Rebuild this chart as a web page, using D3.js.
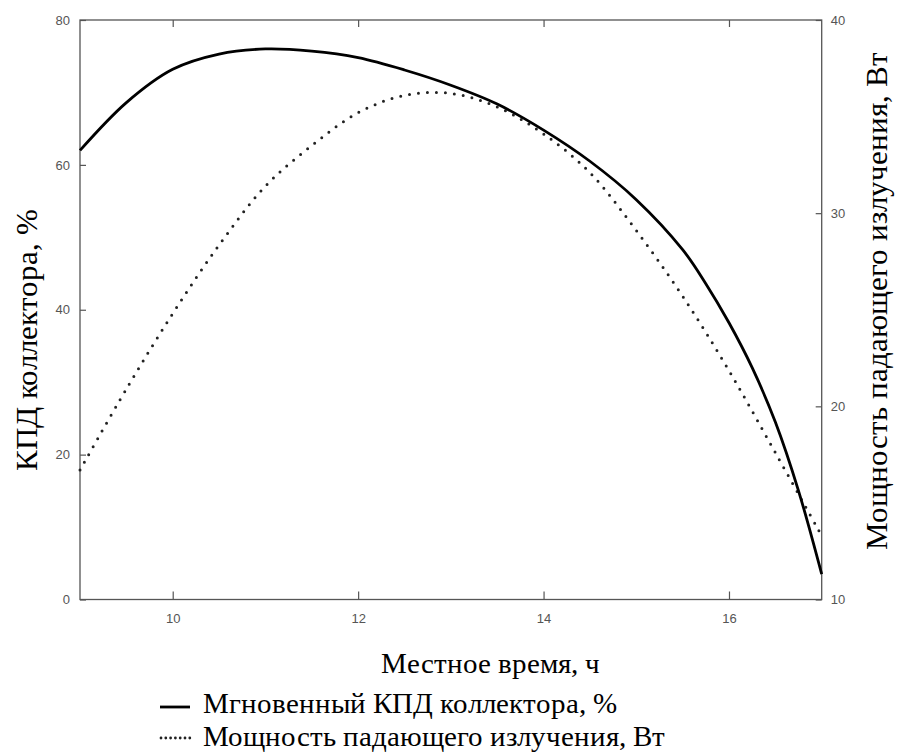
<!DOCTYPE html>
<html><head><meta charset="utf-8">
<script src="https://cdn.jsdelivr.net/npm/d3@7"></script>
<style>
@font-face { font-family: "ChartSerif"; src: local("Liberation Serif"), local("LiberationSerif"), local("LiberationSerif-Regular"), local("Times New Roman"), local("Tinos"); }
body { margin: 0; }
text.serif { font-family: "ChartSerif", "Liberation Serif", "Tinos", "Times New Roman", serif; }
</style>
</head><body>
<script>
const effHours = [9, 9.5, 10, 10.5, 11, 11.5, 12, 12.5, 13, 13.5, 14, 14.5, 15, 15.5, 15.75, 16, 16.25, 16.5, 16.75, 17];
const efficiency = [62.0, 68.6, 73.2, 75.3, 76.0, 75.7, 74.8, 73.1, 71.0, 68.4, 64.8, 60.5, 55.2, 48.3, 43.6, 38.2, 32.0, 24.5, 15.0, 3.5];
const powHours = [9, 9.5, 10, 10.5, 11, 11.5, 12, 12.5, 13, 13.5, 14, 14.5, 15, 15.5, 16, 16.5, 17];
const power = [16.7, 20.9, 24.8, 28.35, 31.4, 33.5, 35.2, 36.1, 36.2, 35.5, 34.1, 32.1, 29.1, 25.7, 21.85, 17.6, 13.3];
const xTicks = [10, 12, 14, 16];
const leftTicks = [0, 20, 40, 60, 80];
const rightTicks = [10, 20, 30, 40];
const xTitle = "Местное время, ч";
const leftTitle = "КПД коллектора, %";
const rightTitle = "Мощность падающего излучения, Вт";
const legendLabels = ["Мгновенный КПД коллектора, %", "Мощность падающего излучения, Вт"];

const W = 898, H = 752;
const L = 80, R = 821.7, T = 20, B = 599.5;
const svg = d3.select("body").append("svg").attr("width", W).attr("height", H);
const x = d3.scaleLinear().domain([9, 17]).range([L, R]);
const yL = d3.scaleLinear().domain([0, 80]).range([B, T]);
const yR = d3.scaleLinear().domain([10, 40]).range([B, T]);

// size a serif text so that its length approaches the reference, within limits
function serifText(str, target, maxSize) {
  const t = svg.append("text").attr("class", "serif").style("font-size", "26px").attr("fill", "#000").text(str);
  const w = t.node().getComputedTextLength();
  const fs = Math.max(22, Math.min(maxSize, 26 * target / w));
  t.style("font-size", fs.toFixed(2) + "px");
  return t;
}
const legY = [707, 738];
const leg2 = serifText(legendLabels[1], 532, 29).attr("x", 203).attr("y", 746);
const legFs = leg2.style("font-size");
svg.append("text").attr("class", "serif").style("font-size", legFs).attr("x", 203).attr("y", 713).text(legendLabels[0]);
serifText(xTitle, 270, 29).attr("x", 490).attr("y", 673).attr("text-anchor", "middle");
serifText(leftTitle, 290, 31).attr("transform", "translate(37,340) rotate(-90)").attr("text-anchor", "middle");
serifText(rightTitle, 560, 31).attr("transform", "translate(887,301) rotate(-90)").attr("text-anchor", "middle");

// axes
const axisColor = "#555";
function styleAxis(g) {
  g.attr("font-family", null);
  g.select(".domain").remove();
  g.selectAll(".tick line").attr("stroke", axisColor).attr("stroke-width", 1.2);
  g.selectAll(".tick text").attr("fill", "#555").style("font-family", '"Liberation Sans", Arial, sans-serif').style("font-size", "13px");
}
svg.append("g").attr("transform", `translate(0,${B})`)
  .call(d3.axisBottom(x).tickValues(xTicks).tickFormat(d3.format("d")).tickSizeInner(-8).tickSizeOuter(0).tickPadding(14))
  .call(styleAxis);
svg.append("g").attr("transform", `translate(0,${T})`)
  .call(d3.axisTop(x).tickValues(xTicks).tickFormat("").tickSizeInner(-7).tickSizeOuter(0))
  .call(styleAxis);
svg.append("g").attr("transform", `translate(${L},0)`)
  .call(d3.axisLeft(yL).tickValues(leftTicks).tickFormat(d3.format("d")).tickSizeInner(-6).tickSizeOuter(0).tickPadding(10))
  .call(styleAxis);
svg.append("g").attr("transform", `translate(${R},0)`)
  .call(d3.axisRight(yR).tickValues(rightTicks).tickFormat(d3.format("d")).tickSizeInner(-6).tickSizeOuter(0).tickPadding(9))
  .call(styleAxis);

svg.append("rect").attr("x", L).attr("y", T).attr("width", R - L).attr("height", B - T)
  .attr("fill", "none").attr("stroke", axisColor).attr("stroke-width", 1.3);

// series
const lineEff = d3.line().x((d, i) => x(effHours[i])).y(d => yL(d)).curve(d3.curveCatmullRom.alpha(0.5));
const linePow = d3.line().x((d, i) => x(powHours[i])).y(d => yR(d)).curve(d3.curveCatmullRom.alpha(0.5));
svg.append("path").attr("d", linePow(power)).attr("fill", "none").attr("stroke", "#222")
  .attr("stroke-width", 3).attr("stroke-linecap", "round").attr("stroke-dasharray", "0 9");
svg.append("path").attr("d", lineEff(efficiency)).attr("fill", "none").attr("stroke", "#000")
  .attr("stroke-width", 2.8);

// legend samples
svg.append("line").attr("x1", 160).attr("x2", 190).attr("y1", legY[0]).attr("y2", legY[0])
  .attr("stroke", "#000").attr("stroke-width", 2.8);
svg.append("line").attr("x1", 161).attr("x2", 190).attr("y1", legY[1]).attr("y2", legY[1])
  .attr("stroke", "#222").attr("stroke-width", 2.8).attr("stroke-linecap", "round").attr("stroke-dasharray", "0 4.8");
</script>
</body></html>
